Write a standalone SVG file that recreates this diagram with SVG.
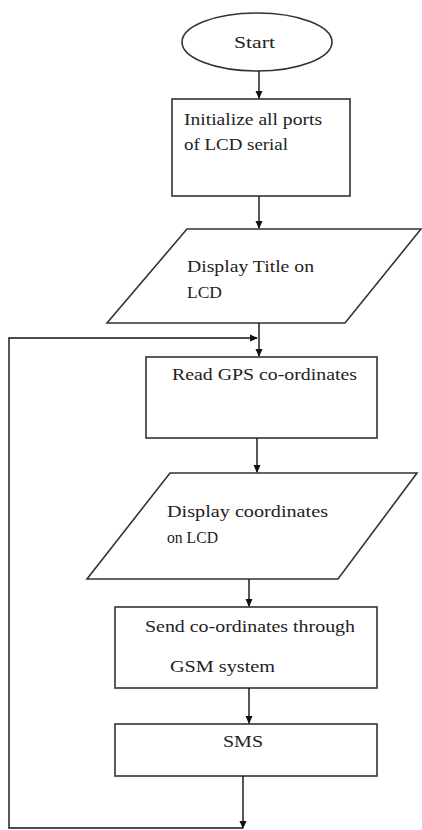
<svg xmlns="http://www.w3.org/2000/svg" width="422" height="830" viewBox="0 0 422 830">
<style>
.shape{fill:#fff;stroke:#333;stroke-width:1.6}
.t{font-family:'Liberation Serif','Times New Roman','DejaVu Serif',serif;font-size:17.5px;fill:#222}
.c{fill:none;stroke:#111;stroke-width:1.4}
</style>
<defs>
<marker id="ah" markerWidth="8" markerHeight="8" refX="7" refY="4" orient="auto" markerUnits="userSpaceOnUse">
<path d="M0,0.5 L8,4 L0,7.5 Z" fill="#111"/>
</marker>
</defs>
<rect width="422" height="830" fill="#fff"/>
<g id="start">
<ellipse class="shape" cx="257" cy="42" rx="75" ry="29"/>
<text class="t" x="234" y="48" textLength="41" lengthAdjust="spacingAndGlyphs">Start</text>
</g>
<g id="init">
<rect class="shape" x="172" y="99" width="178" height="97"/>
<text class="t" x="184" y="125" textLength="138" lengthAdjust="spacingAndGlyphs">Initialize all ports</text>
<text class="t" x="184" y="150" textLength="104" lengthAdjust="spacingAndGlyphs">of LCD serial</text>
</g>
<g id="title">
<polygon class="shape" points="187,229 421,229 345,323 107,323"/>
<text class="t" x="187" y="272" textLength="127" lengthAdjust="spacingAndGlyphs">Display Title on</text>
<text class="t" x="187" y="298" textLength="35" lengthAdjust="spacingAndGlyphs">LCD</text>
</g>
<g id="gps">
<rect class="shape" x="146" y="357" width="231" height="81"/>
<text class="t" x="172" y="380" textLength="185" lengthAdjust="spacingAndGlyphs">Read GPS co-ordinates</text>
</g>
<g id="coords">
<polygon class="shape" points="170,473 417,473 338,579 87,579"/>
<text class="t" x="167" y="517" textLength="161" lengthAdjust="spacingAndGlyphs">Display coordinates</text>
<text class="t" x="167" y="543" textLength="51" lengthAdjust="spacingAndGlyphs">on LCD</text>
</g>
<g id="send">
<rect class="shape" x="115" y="607" width="262" height="81"/>
<text class="t" x="145" y="632" textLength="210" lengthAdjust="spacingAndGlyphs">Send co-ordinates through</text>
<text class="t" x="170" y="672" textLength="105" lengthAdjust="spacingAndGlyphs">GSM system</text>
</g>
<g id="sms">
<rect class="shape" x="115" y="724" width="262" height="52"/>
<text class="t" x="223" y="747" textLength="40" lengthAdjust="spacingAndGlyphs">SMS</text>
</g>
<g id="connectors">
<path class="c" d="M259 71 V98" marker-end="url(#ah)"/>
<path class="c" d="M259 196 V228" marker-end="url(#ah)"/>
<path class="c" d="M259 323 V356" marker-end="url(#ah)"/>
<path class="c" d="M257 438 V472" marker-end="url(#ah)"/>
<path class="c" d="M249 579 V606" marker-end="url(#ah)"/>
<path class="c" d="M249 688 V723" marker-end="url(#ah)"/>
<path class="c" d="M243 776 V828" marker-end="url(#ah)"/>
<path class="c" d="M243 828 H9 V338 H257" marker-end="url(#ah)"/>
</g>
</svg>
